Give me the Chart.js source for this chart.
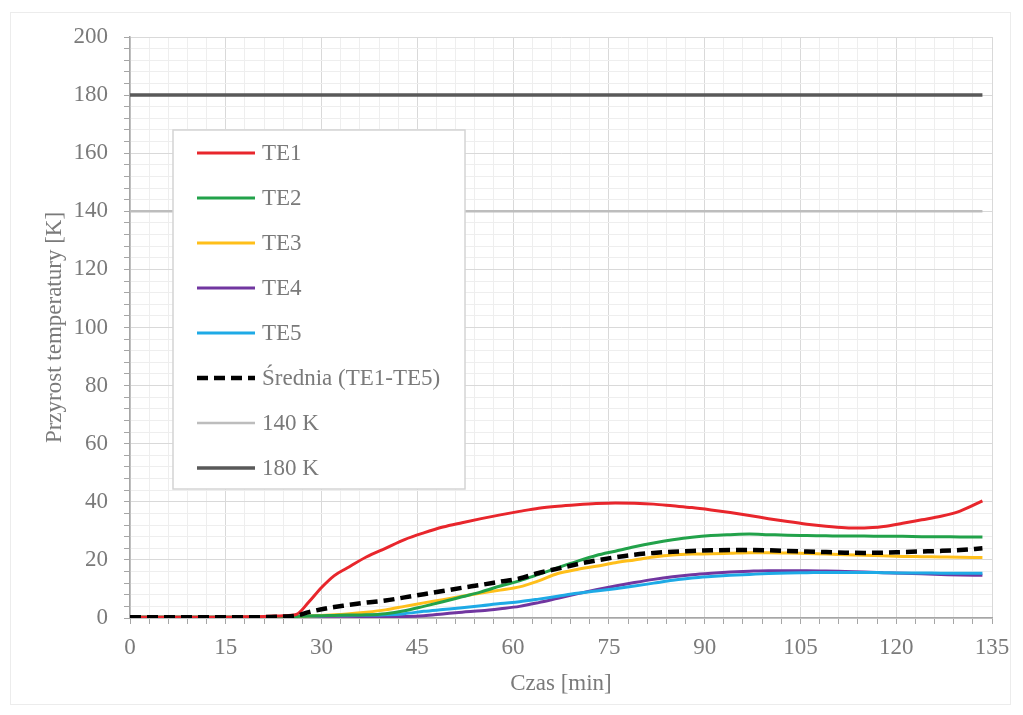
<!DOCTYPE html>
<html>
<head>
<meta charset="utf-8">
<script src="https://cdn.jsdelivr.net/npm/chart.js@4.4.1/dist/chart.umd.min.js"></script>
<style>
  html, body { margin: 0; padding: 0; background: #fff; }
  #chart { display: block; }
</style>
</head>
<body>
<canvas id="chart" width="1023" height="715"></canvas>
<script>
// czas pomiaru [min]
var czas = [0, 3, 6, 9, 12, 15, 18, 21, 24, 26, 28, 30, 32, 34, 37, 40, 43, 46, 49, 52, 55, 58, 61, 64, 67, 70, 73, 76, 79, 82, 85, 88, 91, 94, 97, 100, 103, 106, 109, 112, 115, 118, 121, 124, 127, 130, 133.5];

// przyrost temperatury [K] dla termoelementów
var te1 = [0.3, 0.3, 0.3, 0.3, 0.3, 0.3, 0.4, 0.5, 0.8, 1.2, 5.5, 10.5, 14.6, 17.2, 21, 24, 27, 29.3, 31.3, 32.8, 34.2, 35.5, 36.7, 37.8, 38.5, 39, 39.4, 39.6, 39.5, 39.2, 38.6, 38, 37.2, 36.3, 35.3, 34.2, 33.2, 32.3, 31.6, 31.1, 31, 31.5, 32.6, 33.8, 35, 36.8, 40.3];
var te2 = [0.3, 0.3, 0.3, 0.3, 0.3, 0.3, 0.3, 0.3, 0.3, 0.5, 0.7, 0.8, 0.9, 1, 1.1, 1.5, 2.5, 4, 5.6, 7.3, 9, 11, 12.8, 15, 17.3, 19.5, 21.5, 23, 24.5, 25.8, 26.9, 27.8, 28.4, 28.7, 28.9, 28.7, 28.5, 28.4, 28.3, 28.2, 28.2, 28.1, 28.1, 28, 28, 27.9, 27.9];
var te3 = [0.3, 0.3, 0.3, 0.3, 0.3, 0.3, 0.3, 0.3, 0.3, 0.5, 0.7, 0.9, 1.1, 1.4, 2, 2.8, 4, 5.2, 6.3, 7.5, 8.6, 9.6, 10.7, 12.8, 15.3, 16.7, 17.8, 19, 20, 21, 21.7, 22, 22.1, 22.3, 22.5, 22.5, 22.4, 22.2, 22, 21.8, 21.6, 21.4, 21.2, 21.1, 21, 20.9, 20.8];
var te4 = [0.3, 0.3, 0.3, 0.3, 0.3, 0.3, 0.3, 0.3, 0.3, 0.4, 0.5, 0.6, 0.6, 0.6, 0.5, 0.4, 0.5, 0.8, 1.4, 2, 2.5, 3.2, 4, 5.3, 6.8, 8.3, 9.7, 11, 12.2, 13.3, 14.2, 14.9, 15.4, 15.8, 16.1, 16.3, 16.3, 16.3, 16.2, 16, 15.8, 15.6, 15.4, 15.2, 15, 14.8, 14.7];
var te5 = [0.3, 0.3, 0.3, 0.3, 0.3, 0.3, 0.3, 0.3, 0.3, 0.5, 0.7, 0.8, 0.9, 1, 1, 1.1, 1.5, 2.3, 2.9, 3.5, 4.2, 5, 5.6, 6.5, 7.5, 8.5, 9.3, 10.1, 11, 12, 13, 13.8, 14.3, 14.7, 15, 15.3, 15.5, 15.6, 15.7, 15.7, 15.7, 15.6, 15.5, 15.5, 15.4, 15.4, 15.4];
var srednia = [0.3, 0.3, 0.3, 0.3, 0.3, 0.3, 0.3, 0.3, 0.5, 0.8, 2, 3, 3.8, 4.4, 5.3, 6, 7.1, 8.2, 9.3, 10.4, 11.4, 12.5, 13.6, 15.5, 17, 18.5, 19.8, 20.9, 21.8, 22.4, 22.8, 23.1, 23.3, 23.4, 23.4, 23.3, 23.1, 22.9, 22.7, 22.5, 22.4, 22.5, 22.7, 22.9, 23.1, 23.4, 24];

// kryteria przyrostu temperatury
var czasKryterium = [0, 133.5];
var kryterium140 = [140, 140];
var kryterium180 = [180, 180];

var FONT = "'Liberation Serif', 'DejaVu Serif', serif";
var TEXT = '#7a7a7a';

function punkty(xs, ys) {
    return xs.map(function (x, i) { return { x: x, y: ys[i] }; });
}

function seria(label, xs, ys, color, width, order, dash) {
    return {
        label: label,
        data: punkty(xs, ys),
        borderColor: color,
        backgroundColor: color,
        borderWidth: width,
        borderDash: dash || [],
        pointRadius: 0,
        tension: 0.3,
        cubicInterpolationMode: 'monotone',
        order: order
    };
}

// ramka wokół całego wykresu
var ramka = {
    id: 'ramka',
    beforeDraw: function (chart) {
        var c = chart.ctx;
        c.save();
        c.fillStyle = '#fff';
        c.fillRect(0, 0, chart.width, chart.height);
        c.strokeStyle = '#ececec';
        c.lineWidth = 1;
        c.strokeRect(10.5, 12.5, 1000, 692);
        c.restore();
    }
};

// legenda w obszarze wykresu, z ramką
var legenda = {
    id: 'legenda',
    afterDatasetsDraw: function (chart) {
        var c = chart.ctx;
        var x0 = 173, y0 = 130, w = 292, h = 359;
        c.save();
        c.fillStyle = '#fff';
        c.fillRect(x0, y0, w, h);
        c.strokeStyle = '#d4d4d4';
        c.lineWidth = 1.5;
        c.strokeRect(x0, y0, w, h);
        c.font = '23px ' + FONT;
        c.textBaseline = 'middle';
        c.fillStyle = TEXT;
        chart.data.datasets.forEach(function (ds, i) {
            var y = 153 + i * 45;
            c.beginPath();
            c.strokeStyle = ds.borderColor;
            c.lineWidth = ds.borderWidth;
            c.setLineDash(ds.borderDash);
            c.moveTo(197, y);
            c.lineTo(255, y);
            c.stroke();
            c.setLineDash([]);
            c.fillText(ds.label, 262, y + 1);
        });
        c.restore();
    }
};

var ctx = document.getElementById('chart').getContext('2d');
var myChart = new Chart(ctx, {
    type: 'line',
    data: {
        datasets: [
            seria('TE1', czas, te1, '#e8262c', 3, 2),
            seria('TE2', czas, te2, '#22a24a', 3, 3),
            seria('TE3', czas, te3, '#ffbf1a', 3, 4),
            seria('TE4', czas, te4, '#7136a0', 3, 6),
            seria('TE5', czas, te5, '#1eaae6', 3, 5),
            seria('Średnia (TE1-TE5)', czas, srednia, '#000000', 4.5, 1, [11, 6]),
            seria('140 K', czasKryterium, kryterium140, '#bdbdbd', 2.5, 8),
            seria('180 K', czasKryterium, kryterium180, '#595959', 3.5, 7)
        ]
    },
    options: {
        responsive: false,
        animation: false,
        devicePixelRatio: 1,
        layout: { padding: { left: 0, top: 37, right: 31, bottom: 0 } },
        plugins: {
            legend: { display: false },
            tooltip: { enabled: false }
        },
        scales: {
            x: {
                type: 'linear',
                min: 0,
                max: 135,
                afterFit: function (s) { s.height = 97; },
                ticks: {
                    stepSize: 3,
                    autoSkip: false,
                    maxRotation: 0,
                    padding: 10,
                    color: TEXT,
                    font: { family: FONT, size: 23 },
                    callback: function (v) { return v % 15 === 0 ? v : ''; }
                },
                grid: {
                    color: function (c) { return c.tick && c.tick.value % 15 === 0 ? '#d9d9d9' : '#eeeeee'; },
                    tickColor: '#a6a6a6',
                    tickLength: 6
                },
                border: { color: '#a6a6a6', width: 1.5 },
                title: {
                    display: true,
                    text: 'Czas [min]',
                    color: TEXT,
                    font: { family: FONT, size: 23 },
                    padding: { top: 0, bottom: 17 }
                }
            },
            y: {
                min: 0,
                max: 200,
                afterFit: function (s) { s.width = 130; },
                ticks: {
                    stepSize: 4,
                    autoSkip: false,
                    padding: 16,
                    color: TEXT,
                    font: { family: FONT, size: 23 },
                    callback: function (v) { return v % 20 === 0 ? v : ''; }
                },
                grid: {
                    color: function (c) { return c.tick && c.tick.value % 20 === 0 ? '#d9d9d9' : '#eeeeee'; },
                    tickColor: '#a6a6a6',
                    tickLength: 6
                },
                border: { color: '#a6a6a6', width: 1.5 },
                title: {
                    display: true,
                    text: 'Przyrost temperatury [K]',
                    color: TEXT,
                    font: { family: FONT, size: 23 },
                    padding: { top: 41, bottom: 0 }
                }
            }
        }
    },
    plugins: [ramka, legenda]
});
</script>
</body>
</html>
